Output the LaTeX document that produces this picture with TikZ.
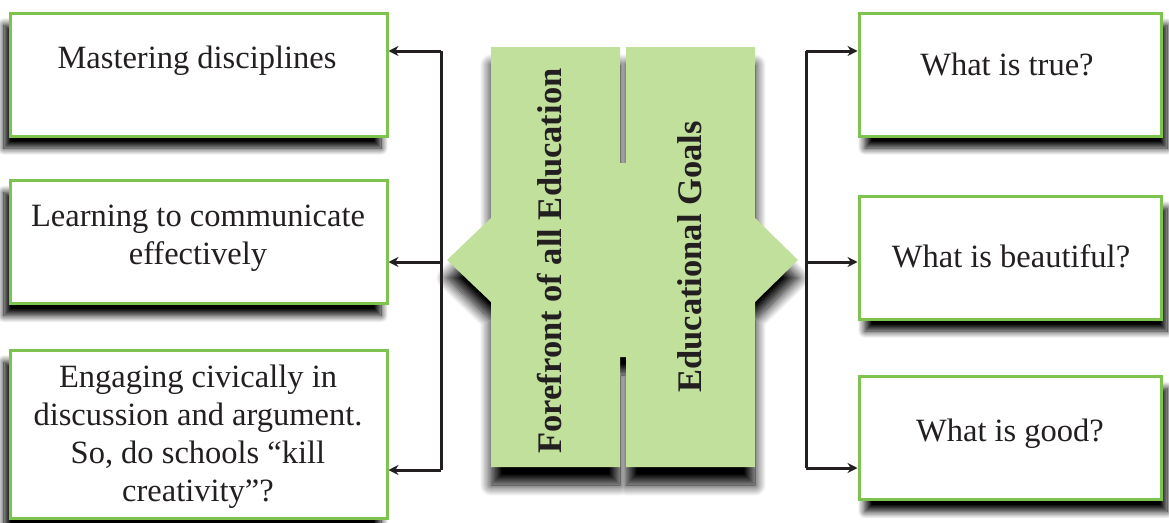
\documentclass[tikz,border=0pt]{standalone}
\usepackage{fontspec}
\setmainfont{Liberation Serif}
\newfontfamily\tnr[Ligatures=TeX]{Liberation Serif}
\usetikzlibrary{arrows.meta,shadows.blur}
\definecolor{boxgreen}{RGB}{125,196,78}
\definecolor{lightgreen}{RGB}{193,224,156}
\definecolor{linecol}{RGB}{35,31,32}
\tikzset{
  x=1pt, y=-1pt,
  txt/.style={font=\tnr\fontsize{32.5}{38}\selectfont, text=linecol, align=center, inner sep=0pt},
  vtxt/.style={font=\tnr\fontsize{34.5}{40}\selectfont\bfseries, text=linecol, inner sep=0pt, rotate=90},
  leftbox/.style={draw=boxgreen, line width=3pt, fill=white, minimum width=377pt, inner sep=0pt,
    blur shadow={shadow xshift=-6pt, shadow yshift=-12pt, shadow blur radius=7pt, shadow blur steps=12, shadow opacity=100}},
  rightbox/.style={draw=boxgreen, line width=3pt, fill=white, minimum width=302pt, minimum height=123pt, inner sep=0pt,
    blur shadow={shadow xshift=6pt, shadow yshift=-12pt, shadow blur radius=7pt, shadow blur steps=12, shadow opacity=100}},
  conn/.style={draw=linecol, line width=3pt},
  arr/.style={conn, -{Stealth[length=10pt,width=10pt]}},
}
\begin{document}
\begin{tikzpicture}
\useasboundingbox (0,0) rectangle (1169,522);
% central H shape
\path[fill=lightgreen, blur shadow={shadow xshift=0pt, shadow yshift=-18pt, shadow blur radius=11pt, shadow blur steps=14, shadow opacity=100}]
  (491,47) -- (620,47) -- (620,163) -- (626,163) -- (626,47) -- (755,47) -- (755,218)
  -- (798,260) -- (755,302) -- (755,467) -- (626,467) -- (626,357) -- (620,357)
  -- (620,467) -- (491,467) -- (491,302) -- (447,260) -- (491,218) -- cycle;
\node[vtxt] (forefront) at (550,261) {Forefront of all Education};
\node[vtxt] (goals) at (690,257) {Educational Goals};

% left boxes
\node[leftbox, minimum height=123pt] (m1) at (198.5,74.5) {};
\node[leftbox, minimum height=123pt] (m2) at (198.5,242) {};
\node[leftbox, minimum height=168pt] (m3) at (198.5,434) {};
\node[txt] (m1t) at (197,61) {Mastering disciplines};
\node[txt] (m2t) at (198,238) {Learning to communicate\\effectively};
\node[txt] (m3t) at (198,437) {Engaging civically in\\discussion and argument.\\So, do schools “kill\\creativity”?};

% right boxes
\node[rightbox] (g1) at (1010,74.5) {};
\node[rightbox] (g2) at (1010,257.5) {};
\node[rightbox] (g3) at (1010,438) {};
\node[txt] (g1t) at (1007,64) {What is true?};
\node[txt] (g2t) at (1011,256) {What is beautiful?};
\node[txt] (g3t) at (1010,434) {What is good?};

% left connectors
\coordinate (L1) at (441,51);
\coordinate (L2) at (441,262);
\coordinate (L3) at (441,470);
\draw[conn] (L1) -- (L3);
\draw[arr] (L1) -- (L1 -| m1.east);
\draw[arr] (L2) -- (L2 -| m2.east);
\draw[arr] (L3) -- (L3 -| m3.east);

% right connectors
\coordinate (R1) at (806,51);
\coordinate (R2) at (806,262);
\coordinate (R3) at (806,468);
\draw[conn] (R1) -- (R3);
\draw[arr] (R1) -- (R1 -| g1.west);
\draw[arr] (R2) -- (R2 -| g2.west);
\draw[arr] (R3) -- (R3 -| g3.west);
\end{tikzpicture}
\end{document}
